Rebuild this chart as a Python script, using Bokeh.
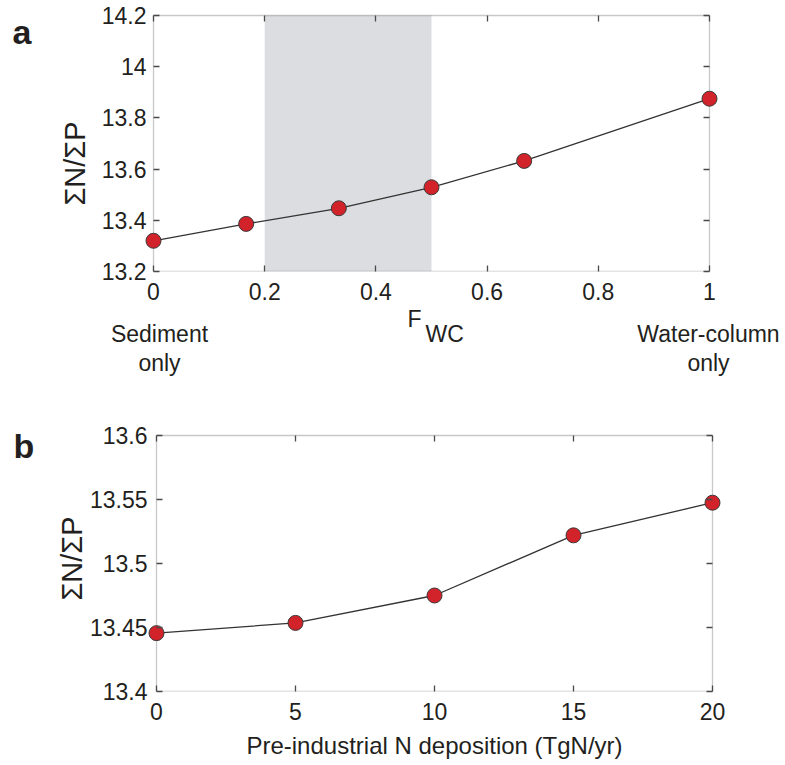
import numpy as np
from bokeh.plotting import figure
from bokeh.models import Range1d, LinearAxis, FixedTicker, BoxAnnotation
from bokeh.layouts import column, row
from bokeh.core.properties import value
from bokeh.embed import file_html
from bokeh.resources import INLINE

# ---------------- data ----------------
# Panel a
fwc = [0, 1/6, 1/3, 0.5, 2/3, 1]
np_ratio_a = [13.32, 13.386, 13.447, 13.529, 13.632, 13.875]
shade_fwc = [0.2, 0.5]
a_xticks = [0, 0.2, 0.4, 0.6, 0.8, 1]
a_xtick_labels = ["0", "0.2", "0.4", "0.6", "0.8", "1"]
a_yticks = [13.2, 13.4, 13.6, 13.8, 14.0, 14.2]
a_ytick_labels = ["13.2", "13.4", "13.6", "13.8", "14", "14.2"]

# Panel b
ndep = [0, 5, 10, 15, 20]
np_ratio_b = [13.4456, 13.4536, 13.475, 13.522, 13.5475]
b_xticks = [0, 5, 10, 15, 20]
b_xtick_labels = ["0", "5", "10", "15", "20"]
b_yticks = [13.4, 13.45, 13.5, 13.55, 13.6]
b_ytick_labels = ["13.4", "13.45", "13.5", "13.55", "13.6"]

YLABEL = "ΣN/ΣP"

# ---------------- style ----------------
FONT = "Liberation Sans"
TXT = "#231f20"
AX = "#4a4a4a"
RED = "#d2232a"
EDGE = "#3a3a3a"
LINE = "#333333"
SHADE = "#dcdde0"
BOX_W = 556
BOX_H = 256
PAD = 9      # horizontal room so end markers are not clipped
PADT = 10    # room above the box
W = 785


def blank(w, h, xr, yr):
    f = figure(width=w, height=h, output_backend="svg", toolbar_location=None,
               x_range=xr, y_range=yr, x_axis_location=None, y_axis_location=None,
               title=None, min_border=0)
    f.outline_line_color = None
    f.grid.visible = False
    f.background_fill_color = "white"
    f.border_fill_color = "white"
    return f


def txt(f, xs, ys, texts, size="23px", align="center", baseline="middle", bold=False,
        angle=0.0):
    f.text(x=xs, y=ys, text=texts, text_font=value(FONT), text_font_size=value(size),
           text_align=align, text_baseline=baseline, text_color=TXT, angle=angle,
           text_font_style="bold" if bold else "normal")


def build(xs, ys, xticks, xlabels, yticks, ylabels, box_left, box_top, fig_h, side,
          ytick_standoff, ylab_standoff=None, xlabel=None):
    x0, x1 = xticks[0], xticks[-1]
    y0, y1 = yticks[0], yticks[-1]
    xpp = (x1 - x0) / BOX_W
    ypp = (y1 - y0) / BOX_H
    pad = PAD * xpp
    p = figure(width=W - side, height=fig_h, output_backend="svg", toolbar_location=None,
               x_range=Range1d(x0 - pad, x1 + pad),
               y_range=Range1d(y0, y1 + PADT * ypp),
               x_axis_location=None, y_axis_location=None, title=None,
               min_border_left=box_left - PAD - side,
               min_border_right=W - box_left - BOX_W - PAD,
               min_border_top=box_top - PADT,
               min_border_bottom=fig_h - box_top - BOX_H)
    p.outline_line_color = None
    p.background_fill_color = "white"
    p.border_fill_color = "white"
    p.grid.visible = False

    def axis(ticks, labels, show):
        ax = LinearAxis(ticker=FixedTicker(ticks=ticks))
        ax.axis_line_color = None
        ax.major_tick_line_color = AX
        ax.major_tick_line_width = 1.3
        ax.minor_tick_line_color = None
        ax.major_label_text_font = FONT
        ax.major_label_text_color = TXT
        if show:
            ax.major_label_overrides = {t: l for t, l in zip(ticks, labels)}
            ax.major_label_text_font_size = "23px"
        else:
            ax.major_label_overrides = {t: "" for t in ticks}
            ax.major_label_text_font_size = "0px"
            ax.major_label_standoff = 0
        return ax

    bottom = axis(xticks, xlabels, True)
    bottom.major_tick_in = 6
    bottom.major_tick_out = 0
    bottom.major_label_standoff = 11
    if xlabel:
        bottom.axis_label = xlabel
        bottom.axis_label_text_font = FONT
        bottom.axis_label_text_font_size = "24px"
        bottom.axis_label_text_font_style = "normal"
        bottom.axis_label_text_color = TXT
        bottom.axis_label_standoff = 9
    top = axis(xticks, xlabels, False)
    top.major_tick_in = PADT + 6
    top.major_tick_out = -PADT

    left = axis(yticks, ylabels, True)
    left.major_tick_in = PAD + 6
    left.major_tick_out = -PAD
    left.major_label_standoff = ytick_standoff
    if ylab_standoff is not None:
        left.axis_label = YLABEL
        left.axis_label_text_font = FONT
        left.axis_label_text_font_size = "29px"
        left.axis_label_text_font_style = "normal"
        left.axis_label_text_color = TXT
        left.axis_label_standoff = ylab_standoff
    right = axis(yticks, ylabels, False)
    right.major_tick_in = PAD + 6
    right.major_tick_out = -PAD

    p.add_layout(bottom, "below")
    p.add_layout(left, "left")
    p.add_layout(top, "above")
    p.add_layout(right, "right")
    return p, xpp, ypp


def finish(p, xs, ys, xticks, yticks):
    p.add_layout(BoxAnnotation(left=xticks[0], right=xticks[-1], bottom=yticks[0],
                               top=yticks[-1], fill_alpha=0, fill_color=None,
                               line_color=AX, line_width=1.3, level="underlay"))
    p.line(xs, ys, line_color=LINE, line_width=1.3)
    p.scatter(xs, ys, size=15, fill_color=RED, line_color=EDGE, line_width=1)


def side_fig(side, fig_h, box_top):
    # the frame of this small figure is aligned with the frame of its neighbour,
    # so its y range is expressed in pixels from the figure top
    return blank(side, fig_h, Range1d(0, side), Range1d(box_top + BOX_H, box_top - PADT))


# ---------------- panel a ----------------
pa_h = 304
SIDE_A = 90
a_left, a_top = 153, 15
pa, xpp_a, ypp_a = build(fwc, np_ratio_a, a_xticks, a_xtick_labels, a_yticks,
                         a_ytick_labels, a_left, a_top, pa_h, SIDE_A, -2)
pa.add_layout(BoxAnnotation(left=shade_fwc[0], right=shade_fwc[1],
                            bottom=a_yticks[0], top=a_yticks[-1], fill_color=SHADE,
                            fill_alpha=1, line_color=None, level="underlay"))
finish(pa, fwc, np_ratio_a, a_xticks, a_yticks)

fa = side_fig(SIDE_A, pa_h, a_top)
txt(fa, [12], [31], ["a"], size="34px", align="left", bold=True)
txt(fa, [74], [163], [YLABEL], size="29px", angle=np.pi / 2)

# strip under panel a (category notes and F_WC axis title)
strip_h = 380 - pa_h
x0a = a_xticks[0]
strip = blank(W, strip_h,
              Range1d(x0a - a_left * xpp_a, x0a + (W - a_left) * xpp_a),
              Range1d(strip_h, 0))
r1, r2 = 333 - pa_h, 362 - pa_h
txt(strip, [a_xticks[0] + 6 * xpp_a, a_xticks[0] + 6 * xpp_a,
            a_xticks[-1] - 1 * xpp_a, a_xticks[-1] - 1 * xpp_a],
    [r1, r2, r1, r2], ["Sediment", "only", "Water-column", "only"])
txt(strip, [x0a + (414 - a_left) * xpp_a], [318 - pa_h], ["F"])
txt(strip, [x0a + (425 - a_left) * xpp_a], [333 - pa_h], ["WC"], align="left")

# ---------------- panel b ----------------
pb_h = 765 - 380
SIDE_B = 40
b_left, b_top = 156, 435 - 380
pb, xpp_b, ypp_b = build(ndep, np_ratio_b, b_xticks, b_xtick_labels, b_yticks,
                         b_ytick_labels, b_left, b_top, pb_h, SIDE_B, 0,
                         ylab_standoff=-1,
                         xlabel="Pre-industrial N deposition (TgN/yr)")
finish(pb, ndep, np_ratio_b, b_xticks, b_yticks)

fb = side_fig(SIDE_B, pb_h, b_top)
txt(fb, [13], [445 - 380], ["b"], size="34px", align="left", bold=True)

layout = column(row(fa, pa), strip, row(fb, pb))
open("out.html", "w").write(file_html(layout, INLINE))
